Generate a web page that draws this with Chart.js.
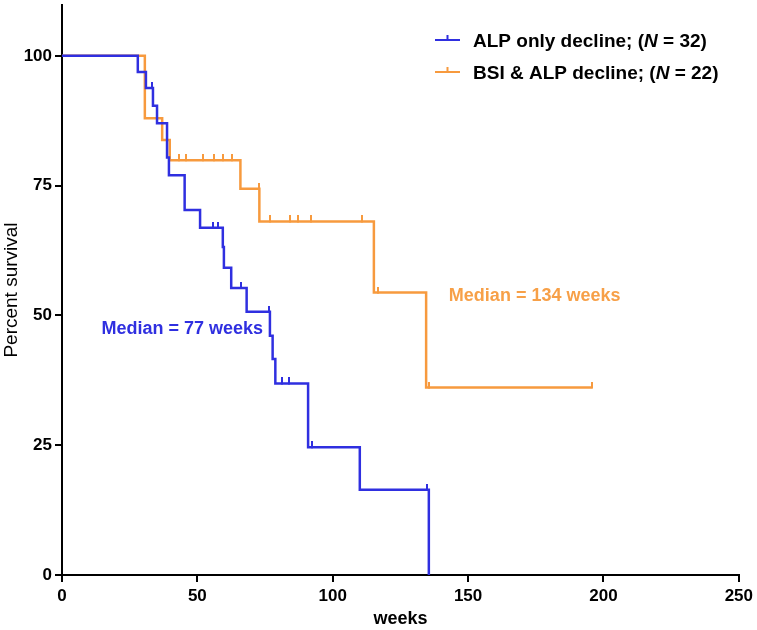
<!DOCTYPE html>
<html>
<head>
<meta charset="utf-8">
<script src="https://cdn.jsdelivr.net/npm/chart.js@4.4.1/dist/chart.umd.min.js"></script>
<style>
  body { margin: 0; background: #fff; }
  #wrap { width: 757px; height: 630px; }
</style>
</head>
<body>
<div id="wrap"><canvas id="kmChart"></canvas></div>
<script>
// ALP only decline, N = 32 (survival after each step)
const alpWeeks    = [0, 28, 31, 33.6, 35.1, 38.8, 39.5, 45.3, 51, 59.4, 59.8, 62.5, 68.2, 76.8, 77.8, 78.8, 90.9, 110, 135.5];
const alpSurvival = [100, 96.9, 93.8, 90.4, 87.0, 80.4, 77.0, 70.3, 66.9, 63.2, 59.2, 55.3, 50.7, 46.1, 41.6, 36.9, 24.6, 16.4, 0];
const alpCensorWeeks    = [33.4, 55.7, 57.5, 66, 76.3, 81.3, 83.7, 92.5, 134.8];
const alpCensorSurvival = [93.8, 66.9, 66.9, 55.3, 50.7, 36.9, 36.9, 24.6, 16.4];

// BSI & ALP decline, N = 22
const bsiWeeks    = [0, 30.6, 37, 39.8, 65.9, 72.9, 115.2, 134.5, 195.6];
const bsiSurvival = [100, 88.0, 83.8, 79.9, 74.4, 68.1, 54.4, 36.1, 36.1];
const bsiCensorWeeks    = [43.4, 45.9, 52, 56.3, 59.4, 62.7, 72.9, 76.8, 84.2, 87, 91.9, 110.7, 116.8, 135.5, 195.6];
const bsiCensorSurvival = [79.9, 79.9, 79.9, 79.9, 79.9, 79.9, 74.4, 68.1, 68.1, 68.1, 68.1, 68.1, 54.4, 36.1, 36.1];

const xTicks = [0, 50, 100, 150, 200, 250];
const yTicks = [0, 25, 50, 75, 100];

const groupLabels = ['ALP only decline', 'BSI & ALP decline'];
const groupN = [32, 22];
const medianWeeks = [77, 134];

const blue = '#2f2fe0';
const orange = '#f79a3e';
const orangeText = '#f7a048';
const FONT = '"Liberation Sans", Arial, sans-serif';

Chart.defaults.font.family = FONT;
Chart.defaults.color = '#000';

function pts(xs, ys) {
  return xs.map((v, i) => ({ x: v, y: ys[i] }));
}

// small upward tick used for censored patients
function censorMark(color) {
  const c = document.createElement('canvas');
  c.width = 2;
  c.height = 12;
  const g = c.getContext('2d');
  g.fillStyle = color;
  g.fillRect(0, 0, 2, 7);
  return c;
}

const extras = {
  id: 'extras',
  afterDatasetsDraw(chart) {
    const { ctx, scales: { x, y } } = chart;
    ctx.save();
    ctx.textBaseline = 'middle';
    ctx.font = 'bold 18px ' + FONT;

    // median labels
    ctx.fillStyle = blue;
    ctx.fillText('Median = ' + medianWeeks[0] + ' weeks', x.getPixelForValue(14.6), y.getPixelForValue(47.3));
    ctx.fillStyle = orangeText;
    ctx.fillText('Median = ' + medianWeeks[1] + ' weeks', x.getPixelForValue(142.9), y.getPixelForValue(53.8));

    // legend
    const colors = [blue, orange];
    const rows = [40, 72];
    for (let i = 0; i < 2; i++) {
      const ly = rows[i];
      ctx.strokeStyle = colors[i];
      ctx.lineWidth = 2;
      ctx.beginPath();
      ctx.moveTo(435, ly);
      ctx.lineTo(460, ly);
      ctx.moveTo(447.5, ly);
      ctx.lineTo(447.5, ly - 5);
      ctx.stroke();

      ctx.fillStyle = '#000';
      let tx = 473;
      const ty = ly + 2;
      const parts = [
        [groupLabels[i] + '; (', 'bold 19px '],
        ['N', 'italic bold 19px '],
        [' = ' + groupN[i] + ')', 'bold 19px ']
      ];
      parts.forEach(p => {
        ctx.font = p[1] + FONT;
        ctx.fillText(p[0], tx, ty);
        tx += ctx.measureText(p[0]).width;
      });
    }
    ctx.restore();
  }
};

new Chart(document.getElementById('kmChart'), {
  type: 'line',
  data: {
    datasets: [
      {
        label: groupLabels[0],
        data: pts(alpWeeks, alpSurvival),
        stepped: 'before',
        borderColor: blue,
        borderWidth: 2.5,
        pointRadius: 0,
        fill: false
      },
      {
        type: 'scatter',
        data: pts(alpCensorWeeks, alpCensorSurvival),
        pointStyle: censorMark(blue),
        showLine: false
      },
      {
        label: groupLabels[1],
        data: pts(bsiWeeks, bsiSurvival),
        stepped: 'before',
        borderColor: orange,
        borderWidth: 2.5,
        pointRadius: 0,
        fill: false
      },
      {
        type: 'scatter',
        data: pts(bsiCensorWeeks, bsiCensorSurvival),
        pointStyle: censorMark(orange),
        showLine: false
      }
    ]
  },
  options: {
    responsive: true,
    maintainAspectRatio: false,
    animation: false,
    layout: { padding: { top: 0, right: 16, bottom: 0, left: 0 } },
    plugins: { legend: { display: false }, tooltip: { enabled: false } },
    scales: {
      x: {
        type: 'linear',
        min: 0,
        max: 250,
        afterBuildTicks: s => { s.ticks = xTicks.map(v => ({ value: v })); },
        afterFit: s => { s.height = 55; },
        grid: { drawOnChartArea: false, drawTicks: true, tickLength: 7, color: '#000', lineWidth: 2 },
        border: { display: true, color: '#000', width: 2 },
        ticks: { font: { size: 17, weight: 'bold' }, padding: 4, maxRotation: 0 },
        title: { display: true, text: 'weeks', font: { size: 18, weight: 'bold' }, padding: 0 }
      },
      y: {
        min: 0,
        max: 109.8,
        afterBuildTicks: s => { s.ticks = yTicks.map(v => ({ value: v })); },
        afterFit: s => { s.width = 62; s.paddingTop = 0; s.paddingBottom = 0; },
        grid: { drawOnChartArea: false, drawTicks: true, tickLength: 7, color: '#000', lineWidth: 2 },
        border: { display: true, color: '#000', width: 2 },
        ticks: { font: { size: 17, weight: 'bold' }, padding: 3 },
        title: { display: true, text: 'Percent survival', font: { size: 19 }, padding: 0 }
      }
    }
  },
  plugins: [extras]
});
</script>
</body>
</html>
